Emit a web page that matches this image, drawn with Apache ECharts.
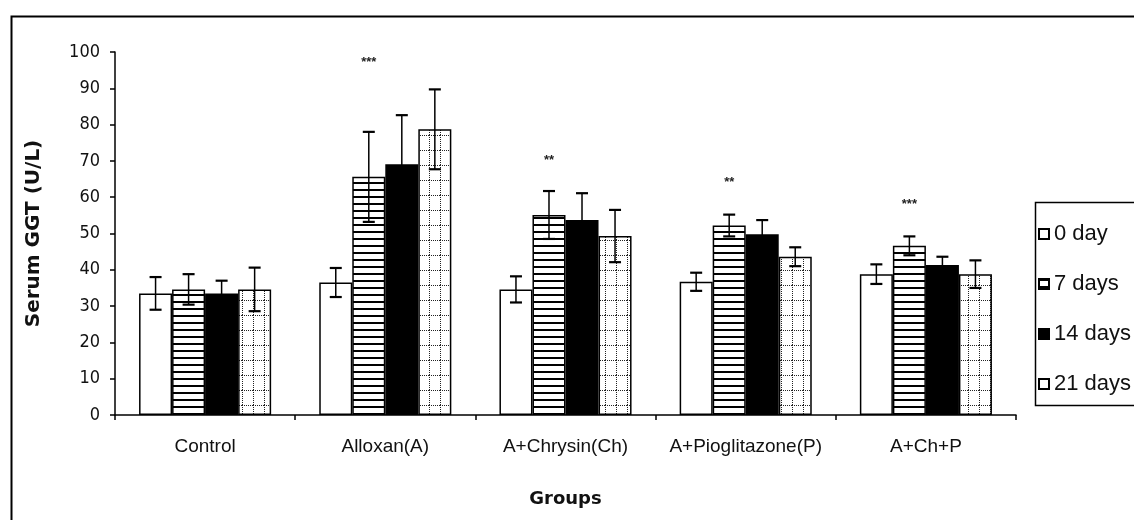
<!DOCTYPE html>
<html>
<head>
<meta charset="utf-8">
<script src="https://cdn.jsdelivr.net/npm/echarts@6/dist/echarts.min.js"></script>
<style>
html,body{margin:0;padding:0;background:#fff;}
#chart{width:1134px;height:520px;}
</style>
</head>
<body>
<div id="chart"></div>
<script>
// ---- data ----
const categories = ['Control', 'Alloxan(A)', 'A+Chrysin(Ch)', 'A+Pioglitazone(P)', 'A+Ch+P'];
const seriesNames = ['0 day', '7 days', '14 days', '21 days'];
const day0  = [33.5, 36.5, 34.6, 36.7, 38.8];
const day7  = [34.6, 65.6, 55.1, 52.2, 46.6];
const day14 = [33.5, 69.1, 53.7, 49.8, 41.3];
const day21 = [34.6, 78.7, 49.3, 43.6, 38.8];
const err0  = [4.5, 4.0, 3.6, 2.5, 2.7];
const err7  = [4.2, 12.4, 6.6, 3.0, 2.6];
const err14 = [3.5, 13.5, 7.4, 3.9, 2.3];
const err21 = [6.0, 11.0, 7.2, 2.6, 3.8];
const stars = ['', '***', '**', '**', '***'];
const starY = [null, 97, 70, 64, 58];
const yTicks = [0, 10, 20, 30, 40, 50, 60, 70, 80, 90, 100];

const values = [day0, day7, day14, day21];
const errors = [err0, err7, err14, err21];

// ---- patterns ----
function stripePattern() {
  const c = document.createElement('canvas');
  c.width = 4; c.height = 7;
  const g = c.getContext('2d');
  g.fillStyle = '#fff'; g.fillRect(0, 0, 4, 7);
  g.fillStyle = '#000'; g.fillRect(0, 0, 4, 2);
  return c;
}
function dotGridPattern() {
  const c = document.createElement('canvas');
  c.width = 11; c.height = 15;
  const g = c.getContext('2d');
  g.fillStyle = '#fff'; g.fillRect(0, 0, 11, 15);
  g.fillStyle = '#222';
  for (let y = 0; y < 15; y += 2) g.fillRect(0, y, 1, 1);
  for (let x = 0; x < 11; x += 2) g.fillRect(x, 0, 1, 1);
  return c;
}
const fills = [
  '#ffffff',
  { image: stripePattern(), repeat: 'repeat' },
  '#000000',
  { image: dotGridPattern(), repeat: 'repeat' }
];

const GAP = 0.267;
function barCenter(api, ci, k, v) {
  const band = api.size([1, 0])[0];
  const bw = band * (1 - GAP) / 4;
  return api.coord([ci, v])[0] + (k - 1.5) * bw;
}

const barSeries = seriesNames.map((n, k) => ({
  name: n,
  type: 'bar',
  data: values[k],
  barGap: '0%',
  barCategoryGap: (GAP * 100) + '%',
  itemStyle: { color: fills[k], borderColor: '#000', borderWidth: 1.5 },
  z: 2
}));

const errSeries = seriesNames.map((n, k) => ({
  type: 'custom',
  data: values[k].map((v, i) => [i, v, errors[k][i]]),
  z: 10,
  silent: true,
  renderItem: function (params, api) {
    const ci = api.value(0), v = api.value(1), e = api.value(2);
    const cx = barCenter(api, ci, k, v);
    const yt = api.coord([ci, v + e])[1];
    const yb = api.coord([ci, v - e])[1];
    const hw = 6;
    const st = { stroke: '#000', lineWidth: 1.5 };
    const cap = { stroke: '#000', lineWidth: 2.2 };
    return {
      type: 'group',
      children: [
        { type: 'line', shape: { x1: cx, y1: yt, x2: cx, y2: yb }, style: st },
        { type: 'line', shape: { x1: cx - hw, y1: yt, x2: cx + hw, y2: yt }, style: cap },
        { type: 'line', shape: { x1: cx - hw, y1: yb, x2: cx + hw, y2: yb }, style: cap }
      ]
    };
  }
}));

const starSeries = {
  type: 'custom',
  data: starY.map((y, i) => [i, y, i]).filter(d => d[1] != null),
  z: 11,
  silent: true,
  renderItem: function (params, api) {
    const ci = api.value(0), y = api.value(1);
    const cx = barCenter(api, ci, 1, y);
    const cy = api.coord([ci, y])[1];
    return {
      type: 'text',
      style: {
        x: cx, y: cy, text: stars[ci], align: 'center', verticalAlign: 'middle',
        fontSize: 13, fontWeight: 'bold', fontFamily: 'Liberation Sans', fill: '#222'
      }
    };
  }
};

const chart = echarts.init(document.getElementById('chart'), null, { renderer: 'canvas' });
chart.setOption({
  animation: false,
  backgroundColor: '#fff',
  grid: { left: 115, right: 118, top: 52, bottom: 105, containLabel: false },
  legend: {
    orient: 'vertical',
    left: 1033,
    top: 218,
    data: seriesNames,
    icon: 'rect',
    itemWidth: 10,
    itemHeight: 10,
    itemGap: 28,
    textStyle: { fontFamily: 'Liberation Sans', fontSize: 22, color: '#111', lineHeight: 22 },
    selectedMode: false
  },
  xAxis: {
    type: 'category',
    data: categories,
    name: 'Groups',
    nameLocation: 'middle',
    nameGap: 75,
    nameTextStyle: { fontFamily: 'DejaVu Sans', fontWeight: 'bold', fontSize: 18, color: '#111' },
    axisLine: { lineStyle: { color: '#000', width: 1.5 } },
    axisTick: { show: true, length: 5, lineStyle: { color: '#000', width: 1.5 } },
    axisLabel: { fontFamily: 'Liberation Sans', fontSize: 19, color: '#111', margin: 22, interval: 0 }
  },
  yAxis: {
    type: 'value',
    min: yTicks[0],
    max: yTicks[yTicks.length - 1],
    interval: yTicks[1] - yTicks[0],
    name: 'Serum GGT (U/L)',
    nameLocation: 'middle',
    nameGap: 71,
    nameTextStyle: { fontFamily: 'DejaVu Sans', fontWeight: 'bold', fontSize: 20, color: '#111' },
    axisLine: { show: true, lineStyle: { color: '#000', width: 1.5 } },
    axisTick: { show: true, length: 5, lineStyle: { color: '#000', width: 1.5 } },
    splitLine: { show: false },
    axisLabel: { fontFamily: "'DejaVu Sans Condensed', 'Liberation Sans', sans-serif", fontSize: 18, color: '#111', margin: 15 }
  },
  graphic: [
    { type: 'rect', left: 9, top: 14, shape: { width: 1200, height: 600 },
      style: { fill: null, stroke: '#000', lineWidth: 2 }, silent: true, z: 100 },
    { type: 'rect', left: 1033, top: 200, shape: { width: 200, height: 203 },
      style: { fill: null, stroke: '#000', lineWidth: 1.5 }, silent: true, z: 100 }
  ],
  series: barSeries.concat(errSeries, [starSeries])
});
</script>
</body>
</html>
